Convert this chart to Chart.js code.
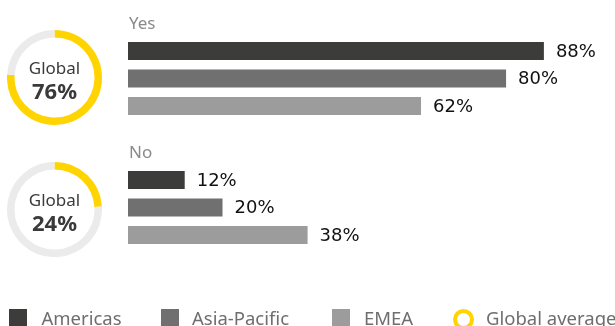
<!DOCTYPE html>
<html>
<head>
<meta charset="utf-8">
<script src="https://cdn.jsdelivr.net/npm/chart.js@4"></script>
<style>
  html, body { margin: 0; padding: 0; background: #fff; }
  #wrap { position: relative; width: 615px; height: 326px; overflow: hidden; }
  #bars { position: absolute; left: 0; top: 0; }
  .donut { position: absolute; left: 7px; }
  #legend { position: absolute; left: 9px; top: 308px; height: 18px; white-space: nowrap;
    font-family: "Noto Sans", sans-serif; font-size: 18.5px; line-height: 18px; color: #6e6e6e; }
  #legend span.item { position: absolute; top: 0; }
  #legend i { position: absolute; top: 0.5px; width: 18px; height: 18px; }
  #legend b { position: absolute; top: 1.3px; font-weight: normal; }
</style>
</head>
<body>
<div id="wrap">
  <canvas id="bars" width="615" height="326"></canvas>
  <canvas id="donutYes" class="donut" width="95" height="95" style="top:30px"></canvas>
  <canvas id="donutNo" class="donut" width="95" height="95" style="top:162px"></canvas>
  <div id="legend"></div>
</div>
<script>
const groups = ['Yes', 'No'];
const regions = ['Americas', 'Asia-Pacific', 'EMEA'];
const americas = [88, 12];
const asiaPacific = [80, 20];
const emea = [62, 38];
const globalAvg = [76, 24];

const regionColors = ['#3c3c3a', '#707070', '#9c9c9c'];
const yellow = '#ffd400';
const track = '#ebebeb';

// value labels at bar ends + group titles above each group
const barLabels = {
    id: 'barLabels',
    afterDatasetsDraw(chart) {
        const ctx = chart.ctx;
        ctx.save();
        ctx.fillStyle = '#111';
        ctx.font = '18px "DejaVu Sans", sans-serif';
        ctx.textBaseline = 'middle';
        chart.data.datasets.forEach((ds, d) => {
            chart.getDatasetMeta(d).data.forEach((bar, i) => {
                ctx.fillText(ds.data[i] + '%', bar.x + 12, bar.y + 1);
            });
        });
        ctx.fillStyle = '#8a8a8a';
        ctx.font = '17px "Noto Sans", sans-serif';
        ctx.textBaseline = 'alphabetic';
        const first = chart.getDatasetMeta(0).data;
        chart.data.labels.forEach((lab, i) => {
            ctx.fillText(lab, 129, first[i].y - first[i].height / 2 - 12.5);
        });
        ctx.restore();
    }
};

new Chart(document.getElementById('bars'), {
    type: 'bar',
    data: {
        labels: groups,
        datasets: [
            { label: regions[0], data: americas, backgroundColor: regionColors[0] },
            { label: regions[1], data: asiaPacific, backgroundColor: regionColors[1] },
            { label: regions[2], data: emea, backgroundColor: regionColors[2] }
        ]
    },
    options: {
        indexAxis: 'y',
        responsive: false,
        animation: false,
        events: [],
        categoryPercentage: 0.64,
        barPercentage: 0.655,
        layout: { padding: { left: 128, right: 14.4, top: 14, bottom: 54 } },
        scales: {
            x: { display: false, min: 0, max: 100 },
            y: { display: false }
        },
        plugins: { legend: { display: false }, tooltip: { enabled: false } }
    },
    plugins: [barLabels]
});

const centerText = {
    id: 'centerText',
    afterDraw(chart) {
        const ctx = chart.ctx;
        const cx = chart.width / 2, cy = chart.height / 2;
        ctx.save();
        ctx.fillStyle = '#3a3a3a';
        ctx.textAlign = 'center';
        ctx.font = '17px "Noto Sans", sans-serif';
        ctx.fillText('Global', cx, cy - 4);
        ctx.font = 'bold 22px "Noto Sans", sans-serif';
        ctx.fillText(chart.data.datasets[0].data[0] + '%', cx, cy + 21);
        ctx.restore();
    }
};

function donut(id, value) {
    new Chart(document.getElementById(id), {
        type: 'doughnut',
        data: {
            labels: ['Global', ''],
            datasets: [{ data: [value, 100 - value], backgroundColor: [yellow, track], borderWidth: 0 }]
        },
        options: {
            responsive: false,
            animation: false,
            events: [],
            cutout: 40,
            plugins: { legend: { display: false }, tooltip: { enabled: false } }
        },
        plugins: [centerText]
    });
}
donut('donutYes', globalAvg[0]);
donut('donutNo', globalAvg[1]);

// legend
const legend = document.getElementById('legend');
const legendX = [0, 152, 323];
const textX = [32.5, 31, 32];
regions.forEach((r, i) => {
    const s = document.createElement('span');
    s.className = 'item';
    s.style.left = legendX[i] + 'px';
    s.innerHTML = '<i style="left:0;background:' + regionColors[i] + '"></i><b style="left:' + textX[i] + 'px">' + r + '</b>';
    legend.appendChild(s);
});
const g = document.createElement('span');
g.className = 'item';
g.style.left = '444px';
g.innerHTML = '<i style="left:0;width:13px;height:13px;border:4px solid ' + yellow + ';border-radius:50%;box-sizing:content-box"></i><b style="left:33px">Global average</b>';
legend.appendChild(g);
</script>
</body>
</html>
